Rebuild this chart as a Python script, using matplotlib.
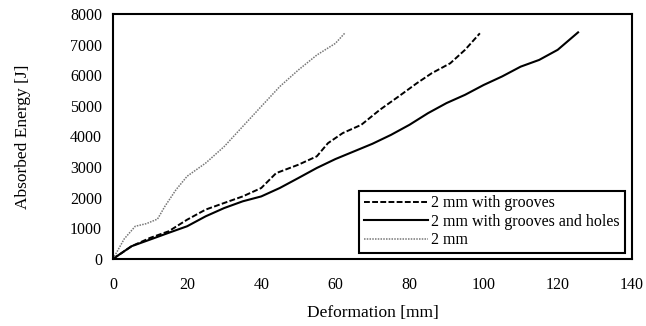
import matplotlib.pyplot as plt

# 2 mm with grooves (dashed)
grooves_x = [0, 5, 10, 15, 20, 25, 30, 35, 40, 44, 50, 55, 58, 62, 67, 72, 77, 82, 86, 91, 95, 99]
grooves_y = [0, 413, 685, 900, 1280, 1610, 1826, 2040, 2315, 2800, 3075, 3350, 3780, 4110,
             4380, 4870, 5300, 5740, 6065, 6390, 6830, 7370]

# 2 mm with grooves and holes (solid)
holes_x = [0, 5, 10, 15, 20, 25, 30, 35, 40, 45, 50, 55, 60, 65, 70, 75, 80, 85, 90, 95,
           100, 105, 110, 115, 120, 125.5]
holes_y = [0, 413, 630, 850, 1065, 1390, 1660, 1880, 2040, 2315, 2640, 2970, 3260, 3510,
           3760, 4050, 4380, 4760, 5090, 5360, 5680, 5960, 6280, 6500, 6830, 7400]

# 2 mm (dotted)
plain_x = [0, 3, 6, 9, 12, 14, 17, 20, 25, 30, 35, 40, 45, 50, 55, 60, 62.5]
plain_y = [0, 650, 1065, 1150, 1300, 1717, 2260, 2700, 3130, 3670, 4326, 4980, 5630,
           6170, 6660, 7040, 7370]

plt.rcParams['font.family'] = ['Liberation Serif', 'DejaVu Serif']

fig = plt.figure(figsize=(6.46, 3.26), dpi=100)
ax = fig.add_axes([0.175, 0.206, 0.803, 0.751])

ax.plot(grooves_x, grooves_y, color='black', linestyle=(0, (3, 1.2)), lw=1.4,
        label='2 mm with grooves')
ax.plot(holes_x, holes_y, color='black', linestyle='-', lw=1.5,
        label='2 mm with grooves and holes')
ax.plot(plain_x, plain_y, color='#777777', linestyle=(0, (1, 0.8)), lw=1.1,
        label='2 mm')

ax.set_xlim(0, 140)
ax.set_ylim(0, 8000)
ax.set_xticks(range(0, 141, 20))
ax.set_yticks(range(0, 8001, 1000))
ax.tick_params(length=0, labelsize=11.5)
ax.tick_params(axis='x', pad=13)
ax.tick_params(axis='y', pad=8)
for s in ax.spines.values():
    s.set_linewidth(1.5)

ax.set_xlabel('Deformation [mm]', fontsize=12.5, labelpad=9)
ax.set_ylabel('Absorbed Energy [J]', fontsize=12.5, labelpad=28)

leg = ax.legend(loc='lower right', bbox_to_anchor=(0.986, 0.024), borderaxespad=0,
                fontsize=11.5, handlelength=4.0, handletextpad=0.2, labelspacing=0.15,
                fancybox=False, edgecolor='black', framealpha=1, borderpad=0.3)
leg.get_frame().set_linewidth(1.5)

fig.savefig('out.png', dpi=100)
